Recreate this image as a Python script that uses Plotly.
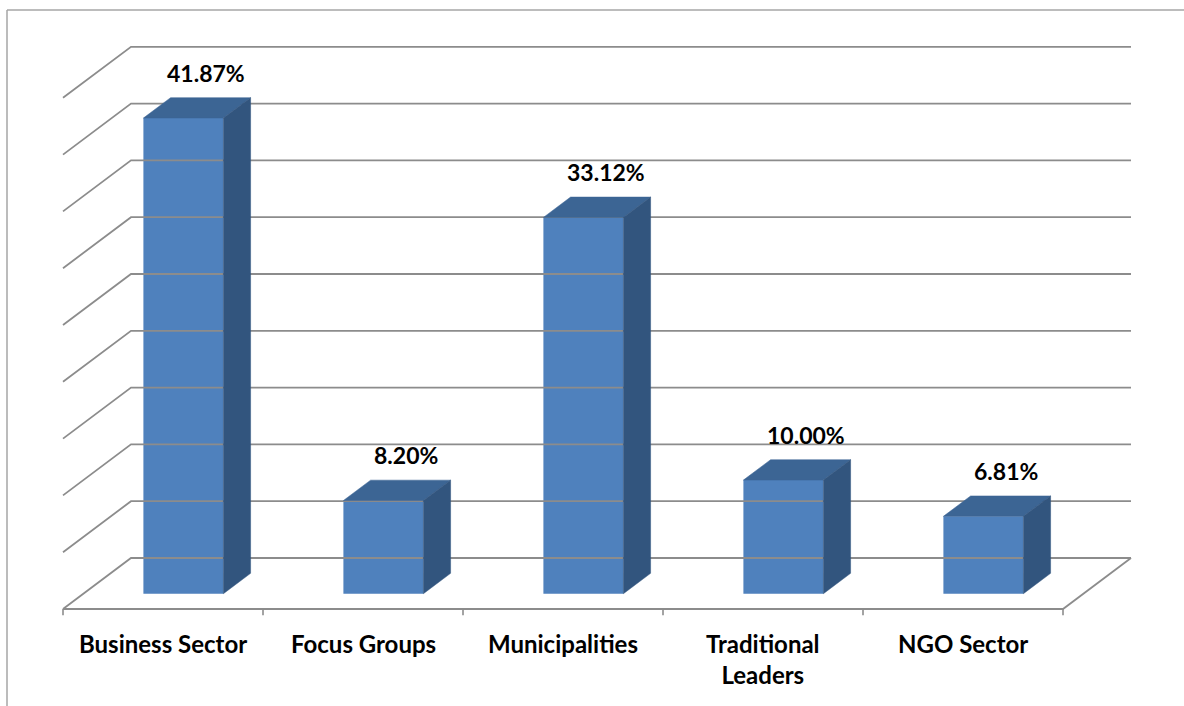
import plotly.graph_objects as go

categories = ["Business Sector", "Focus Groups", "Municipalities", "Traditional<br>Leaders", "NGO Sector"]
values = [41.87, 8.20, 33.12, 10.00, 6.81]
value_labels = ["41.87%", "8.20%", "33.12%", "10.00%", "6.81%"]
grid_values = [0, 5, 10, 15, 20, 25, 30, 35, 40, 45]

# oblique-projection geometry (in axis units)
DX = 0.34      # depth shift in category units
DY = 4.49      # depth shift in value units
D0, D1 = 0.30, 0.70   # bar front/back depth fraction
BW = 0.40      # bar width (category units)

FRONT = "#4F81BD"
TOP = "#3C6594"
SIDE = "#32557E"
GRID = "#8C8C8C"

fig = go.Figure()

n = len(categories)
x_lo, x_hi = -0.5, n - 0.5

# back wall gridlines and left wall diagonals
for g in grid_values:
    fig.add_trace(go.Scatter(
        x=[x_lo, x_lo + DX, x_hi + DX], y=[g, g + DY, g + DY],
        mode="lines", line=dict(color=GRID, width=1.8),
        hoverinfo="skip", showlegend=False))

# floor front edge and right edge
fig.add_trace(go.Scatter(
    x=[x_lo, x_hi, x_hi + DX], y=[0, 0, DY],
    mode="lines", line=dict(color=GRID, width=1.8),
    hoverinfo="skip", showlegend=False))

# category ticks on front edge
for k in range(n + 1):
    xt = x_lo + k
    fig.add_trace(go.Scatter(
        x=[xt, xt], y=[0, -0.55], mode="lines",
        line=dict(color=GRID, width=1.6),
        hoverinfo="skip", showlegend=False))

# bar front faces via bar trace
xf = [i + D0 * DX for i in range(n)]
fig.add_trace(go.Bar(
    x=xf, y=values, base=[D0 * DY] * n, width=BW,
    marker=dict(color=FRONT, line=dict(width=0)),
    hoverinfo="skip", showlegend=False))

# top and side faces
for i, v in enumerate(values):
    xl = i + D0 * DX - BW / 2
    xr = i + D0 * DX + BW / 2
    y0f = D0 * DY
    ddx = (D1 - D0) * DX
    ddy = (D1 - D0) * DY
    top_y = v + y0f
    fig.add_trace(go.Scatter(
        x=[xl, xr, xr + ddx, xl + ddx, xl],
        y=[top_y, top_y, top_y + ddy, top_y + ddy, top_y],
        fill="toself", fillcolor=TOP, mode="lines",
        line=dict(color=TOP, width=0.5),
        hoverinfo="skip", showlegend=False))
    fig.add_trace(go.Scatter(
        x=[xr, xr + ddx, xr + ddx, xr, xr],
        y=[y0f, y0f + ddy, top_y + ddy, top_y, y0f],
        fill="toself", fillcolor=SIDE, mode="lines",
        line=dict(color=SIDE, width=0.5),
        hoverinfo="skip", showlegend=False))

annotations = []
for i, (v, lab) in enumerate(zip(values, value_labels)):
    annotations.append(dict(
        x=i + 0.5 * DX, y=v + D1 * DY, xref="x", yref="y",
        text="<b>" + lab + "</b>", showarrow=False,
        xanchor="center", yanchor="bottom", xshift=9, yshift=9,
        font=dict(family="Lato", size=23, color="#000000")))
for i, c in enumerate(categories):
    annotations.append(dict(
        x=i, y=-1.6, xref="x", yref="y",
        text="<b>" + c + "</b>", showarrow=False,
        xanchor="center", yanchor="top",
        font=dict(family="Lato", size=24, color="#000000")))

fig.update_layout(
    width=1184, height=706,
    margin=dict(l=0, r=0, t=0, b=0),
    paper_bgcolor="white", plot_bgcolor="white",
    xaxis=dict(range=[-0.815, 5.105], visible=False, fixedrange=True),
    yaxis=dict(range=[-8.539, 53.609], visible=False, fixedrange=True),
    annotations=annotations,
    barmode="overlay",
    shapes=[
        dict(type="line", xref="paper", yref="paper",
             x0=7 / 1184, x1=1.0, y0=1 - 10 / 706, y1=1 - 10 / 706,
             line=dict(color="#A6A6A6", width=1.5)),
        dict(type="line", xref="paper", yref="paper",
             x0=7 / 1184, x1=7 / 1184, y0=0, y1=1 - 10 / 706,
             line=dict(color="#A6A6A6", width=1.5)),
    ],
)

fig.write_html("out.html", config={"displayModeBar": False},
               post_script="document.body.style.margin='0px';document.body.style.overflow='hidden';")
